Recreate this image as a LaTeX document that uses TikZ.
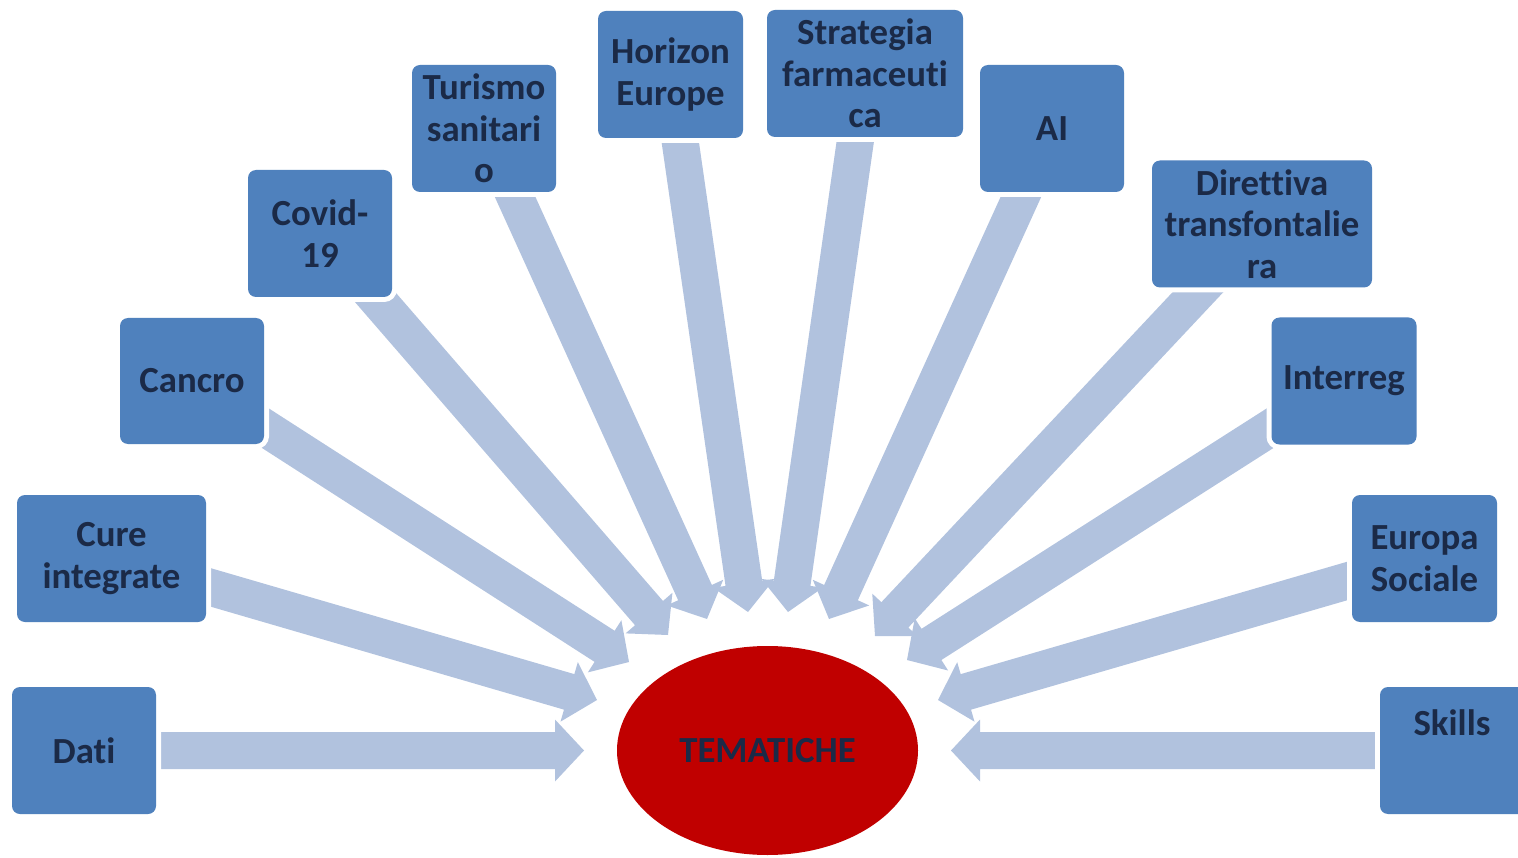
\documentclass[tikz,border=0pt]{standalone}
\usepackage{fontspec}
\setmainfont{Carlito}[Ligatures={NoCommon}]
\usetikzlibrary{calc,shapes.geometric}
\pgfdeclarelayer{bg}
\pgfsetlayers{bg,main}
\definecolor{boxblue}{HTML}{4F81BD}
\definecolor{arrowblue}{HTML}{B1C2DE}
\definecolor{textnavy}{HTML}{1B2A47}
\definecolor{themered}{HTML}{C00000}
\tikzset{
  box/.style={rectangle, rounded corners=8pt, fill=boxblue,
    preaction={draw=white, line width=10pt},
    inner sep=0pt, align=center, text=textnavy,
    font=\fontsize{36.8}{41.5}\selectfont\bfseries},
  lbl/.style={inner sep=0pt, align=center, text=textnavy,
    font=\fontsize{36.8}{41.5}\selectfont\bfseries},
  arrowfill/.style={fill=arrowblue}
}
\newcommand{\blockarr}[2]{%
  \coordinate (bb) at ($(#2)!29pt!(#1)$);
  \fill[arrowfill] ($(#1)!18.5pt!90:(#2)$) -- ($(bb)!18.5pt!90:(#2)$)
    -- ($(bb)!31pt!90:(#2)$) -- (#2) -- ($(bb)!31pt!-90:(#2)$)
    -- ($(bb)!18.5pt!-90:(#2)$) -- ($(#1)!18.5pt!-90:(#2)$) -- cycle;}
\begin{document}
\begin{tikzpicture}[x=1pt,y=-1pt]
\useasboundingbox (0,0) rectangle (1518,858);
% boxes
\node[box, minimum width=144pt, minimum height=127pt] (dati) at (84,750.5) {Dati};
\node[box, minimum width=189pt, minimum height=127pt] (cure) at (111.5,558.5) {Cure\\integrate};
\node[box, minimum width=144pt, minimum height=126pt] (cancro) at (192,381) {Cancro};
\node[box, minimum width=144pt, minimum height=127pt] (covid) at (320,233.5) {Covid-\\19};
\node[box, minimum width=144pt, minimum height=127pt] (turismo) at (484,128.5) {Turismo\\sanitari\\o};
\node[box, minimum width=145pt, minimum height=127pt] (horizon) at (670.5,74.5) {Horizon\\Europe};
\node[box, minimum width=196pt, minimum height=127pt] (strategia) at (865,73.5) {Strategia\\farmaceuti\\ca};
\node[box, minimum width=144pt, minimum height=127pt] (ai) at (1052,128.5) {AI};
\node[box, minimum width=220pt, minimum height=127pt] (direttiva) at (1262,224) {Direttiva\\transfontalie\\ra};
\node[box, minimum width=145pt, minimum height=127pt] (interreg) at (1344,381) {Interreg};
\node[box, minimum width=145pt, minimum height=127pt] (europa) at (1424.5,558.5) {Europa\\Sociale};
\node[box, minimum width=160pt, minimum height=127pt] (skills) at (1460,750.5) {};
\node[lbl] (skillstext) at (1452,723) {Skills};
% centre ellipse
\node[ellipse, fill=themered, minimum width=301pt, minimum height=209pt, inner sep=0pt,
  text=textnavy, font=\fontsize{36.8}{41.5}\selectfont\bfseries] (tem) at (767.5,750.5) {TEMATICHE};
% arrow tips
\coordinate (p1) at (584,750.5);
\coordinate (p2) at (597,700);
\coordinate (p3) at (629,662);
\coordinate (p4) at (668,635);
\coordinate (p5) at (707,619);
\coordinate (p6) at (748,612);
\coordinate (p7) at (788,612);
\coordinate (p8) at (829,619);
\coordinate (p9) at (875,636);
\coordinate (p10) at (907,660);
\coordinate (p11) at (938,700);
\coordinate (p12) at (951,750.5);
\begin{pgfonlayer}{bg}
\blockarr{dati.center}{p1}
\blockarr{cure.center}{p2}
\blockarr{cancro.center}{p3}
\blockarr{covid.center}{p4}
\blockarr{turismo.center}{p5}
\blockarr{horizon.center}{p6}
\blockarr{strategia.center}{p7}
\blockarr{ai.center}{p8}
\blockarr{direttiva.center}{p9}
\blockarr{interreg.center}{p10}
\blockarr{europa.center}{p11}
\blockarr{skills.center}{p12}
\end{pgfonlayer}
\end{tikzpicture}
\end{document}
